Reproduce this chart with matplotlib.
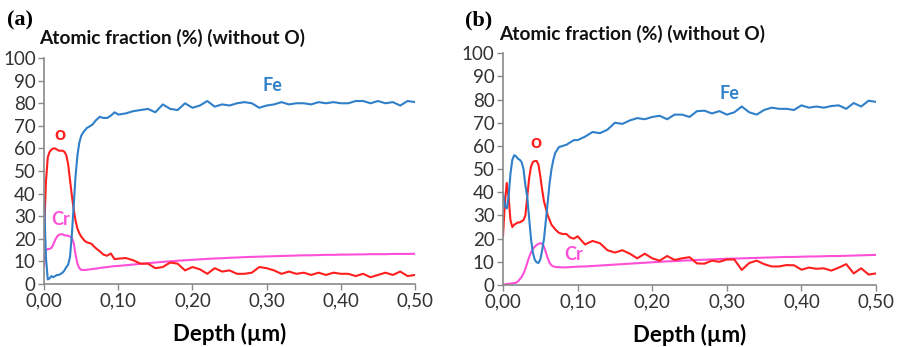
import matplotlib
matplotlib.use("Agg")
import matplotlib.pyplot as plt
from matplotlib.ticker import FuncFormatter

plt.rcParams['font.family'] = ['Lato', 'DejaVu Sans']

# depth grid (µm): fine near surface, coarser deeper
depth = [0.0, 0.0025, 0.005, 0.0075, 0.01, 0.0125, 0.015, 0.0175, 0.02, 0.0225,
         0.025, 0.0275, 0.03, 0.0325, 0.035, 0.0375, 0.04, 0.0425, 0.045, 0.0475,
         0.05, 0.0525, 0.055, 0.0575, 0.06, 0.0625, 0.065, 0.0675, 0.07,
         0.075, 0.08, 0.085, 0.09, 0.095, 0.10,
         0.11, 0.12, 0.13, 0.14, 0.15, 0.16, 0.17, 0.18, 0.19, 0.20,
         0.21, 0.22, 0.23, 0.24, 0.25, 0.26, 0.27, 0.28, 0.29, 0.30,
         0.31, 0.32, 0.33, 0.34, 0.35, 0.36, 0.37, 0.38, 0.39, 0.40,
         0.41, 0.42, 0.43, 0.44, 0.45, 0.46, 0.47, 0.48, 0.49, 0.50]

# panel (a)
fe_a = [38, 12, 2, 2.5, 3.5, 3, 3.5, 4, 4, 4.5,
        5, 6, 7.5, 8.5, 12, 22, 35, 48, 57, 62.5,
        65.5, 67, 68, 69, 69.5, 70, 70.5, 71.5, 72.5,
        74, 73.5, 73.5, 74.5, 76, 75,
        75.5, 76.5, 77, 77.5, 76, 79.5, 77.5, 77, 80, 78,
        79, 81, 78.5, 79.5, 79, 80, 80.5, 80, 78, 79,
        79.5, 80.5, 79.5, 80, 80, 79.5, 80.5, 80, 80.5, 80,
        80, 81, 81, 80, 81, 80, 80.5, 79, 81, 80.5]
o_a = [22, 45, 56, 58.5, 59.5, 60, 60, 59.5, 59, 59,
       59, 58.5, 57, 53, 46, 39, 33, 28, 24.5, 22.5,
       21, 20, 19, 18.5, 18.2, 18, 17.5, 16.5, 15.8,
       14.5, 13, 12.5, 13.5, 11, 11.2,
       11.5, 10.5, 9, 9, 7, 7.5, 9.5, 9, 6, 7.5,
       6.5, 4.5, 7, 5.5, 6, 4.5, 4.5, 5, 7.5, 7,
       6, 4.5, 5.5, 4.5, 5, 4, 5, 4, 5, 4.5,
       4.5, 3.5, 4.5, 3, 4, 5, 4, 5.5, 3.5, 4]
cr_a = [8, 15, 15.5, 15.5, 16, 17.5, 19.5, 21, 21.8, 22,
        22, 21.5, 21.5, 21.3, 21, 20.5, 18, 13, 9, 7,
        6.3, 6.2, 6.2, 6.3, 6.4, 6.5, 6.6, 6.7, 6.8,
        7.1, 7.3, 7.5, 7.7, 7.9, 8.0,
        8.3, 8.6, 8.9, 9.2, 9.5, 9.8, 10.0, 10.3, 10.5, 10.7,
        10.9, 11.1, 11.3, 11.4, 11.6, 11.7, 11.9, 12.0, 12.1, 12.2,
        12.3, 12.4, 12.5, 12.6, 12.7, 12.7, 12.8, 12.9, 12.9, 13.0,
        13.0, 13.1, 13.1, 13.2, 13.2, 13.2, 13.3, 13.3, 13.3, 13.4]

# panel (b)
fe_b = [40, 34, 33, 38, 48, 54, 56, 55.5, 54.5, 54,
        53, 50, 43, 38, 29, 20, 14, 11, 9.8, 9.5,
        11, 15, 20, 28, 36, 44, 50, 54, 57,
        59.5, 60, 60.5, 61.5, 62.5, 62.5,
        64, 66, 65.5, 67, 70, 69.5, 71, 72, 71.5, 72.5,
        73, 71.5, 73.5, 73.5, 72.5, 75, 75.2, 74, 75, 73.5,
        74.5, 77, 74.5, 73.5, 75.5, 76.5, 76, 76, 75.5, 77.5,
        76.5, 77, 76.5, 77.2, 77.5, 76, 78.5, 77, 79.5, 79]
o_b = [21, 35, 44, 38, 28, 25, 26, 26.5, 27, 27,
       27.5, 28, 30, 38, 46, 51, 53, 53.5, 53.5, 52,
       47, 41, 36, 33, 30, 28, 26, 25, 24,
       22.5, 22, 22, 20.5, 20, 21,
       17.5, 19, 18, 15, 14, 15, 13.5, 11.5, 13.5, 11.5,
       10.5, 12.5, 10.8, 11.5, 12, 9.3, 9.2, 10.5, 10, 11,
       11, 6.5, 9.5, 10.5, 9, 8, 8, 8.6, 8.5, 6.6,
       7.5, 7, 7.2, 6.2, 7.5, 9, 5, 7.2, 4.5, 5]
cr_b = [0, 0.3, 0.4, 0.5, 0.6, 0.7, 0.8, 1, 1.5, 2.5,
        3.5, 5, 7, 9.5, 12, 14, 15.5, 16.5, 17.2, 17.8,
        18, 17.8, 16.5, 14, 11.5, 9.5, 8.5, 8, 7.8,
        7.7, 7.6, 7.6, 7.7, 7.8, 7.9,
        8.0, 8.2, 8.4, 8.6, 8.8, 9.0, 9.2, 9.4, 9.6, 9.8,
        10.0, 10.2, 10.3, 10.5, 10.6, 10.8, 10.9, 11.0, 11.2, 11.3,
        11.4, 11.5, 11.6, 11.7, 11.8, 11.9, 12.0, 12.1, 12.1, 12.2,
        12.3, 12.3, 12.4, 12.5, 12.5, 12.6, 12.7, 12.8, 12.9, 13.0]

x_ticks = [0.0, 0.1, 0.2, 0.3, 0.4, 0.5]
y_ticks = [0, 10, 20, 30, 40, 50, 60, 70, 80, 90, 100]

FE_C = '#2f80c9'
O_C = '#ff1f1f'
CR_C = '#ff4fd8'
AXIS_C = '#8a8a8a'

fig = plt.figure(figsize=(8.99, 3.47), dpi=100)

panels = [
    ('(a)', [0.049, 0.1816, 0.4127, 0.651], fe_a, o_a, cr_a,
     (0.308, 88), (0.021, 66), (0.023, 28.5), (0.008, 0.94), (0.043, 0.89)),
    ('(b)', [0.5595, 0.1787, 0.415, 0.668], fe_b, o_b, cr_b,
     (0.303, 82.5), (0.044, 61.5), (0.095, 13), (0.517, 0.94), (0.555, 0.903)),
]

for tag, rect, fe, o, cr, fe_xy, o_xy, cr_xy, tag_xy, title_xy in panels:
    ax = fig.add_axes(rect)
    ax.plot(depth, cr, color=CR_C, lw=1.5)
    ax.plot(depth, o, color=O_C, lw=1.5)
    ax.plot(depth, fe, color=FE_C, lw=1.5)
    ax.set_xlim(0, 0.5)
    ax.set_ylim(0, 100)
    ax.set_xticks(x_ticks)
    ax.set_yticks(y_ticks)
    ax.xaxis.set_major_formatter(FuncFormatter(lambda v, p: f"{v:.2f}".replace('.', ',')))
    ax.tick_params(axis='both', labelsize=13.5, colors='#333333', length=4,
                   width=1, pad=2)
    ax.tick_params(axis='both', color=AXIS_C)
    for s in ('top', 'right'):
        ax.spines[s].set_visible(False)
    for s in ('left', 'bottom'):
        ax.spines[s].set_color(AXIS_C)
        ax.spines[s].set_linewidth(1.2)
    ax.set_xlabel('Depth (µm)', fontsize=16, fontweight='bold', labelpad=10)

    ax.text(*fe_xy, 'Fe', color=FE_C, fontsize=13, fontweight='bold', ha='center', va='center')
    ax.text(*o_xy, 'o', color=O_C, fontsize=14, fontweight='bold', ha='center', va='center')
    ax.text(*cr_xy, 'Cr', color=CR_C, fontsize=13, fontweight='bold', ha='center', va='center')

    fig.text(*tag_xy, tag, fontsize=16, fontweight='bold', family='Liberation Serif',
             ha='left', va='center')
    fig.text(*title_xy, 'Atomic fraction (%) (without O)', fontsize=13.8,
             fontweight='bold', ha='left', va='center', color='#111111')

fig.savefig('out.png', dpi=100)
